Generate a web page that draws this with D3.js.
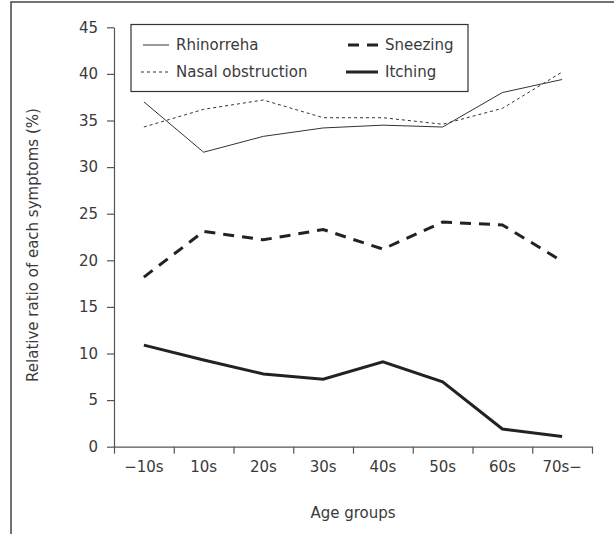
<!DOCTYPE html>
<html>
<head>
<meta charset="utf-8">
<script src="https://cdn.jsdelivr.net/npm/d3@7"></script>
<style>
  html, body { margin: 0; padding: 0; background: #fff; }
  svg { display: block; }
  text { font-family: "DejaVu Sans", sans-serif; fill: #3a3a3a; }
</style>
</head>
<body>
<div id="chart"></div>
<script>
// age groups on the x axis
const categories = ["\u221210s", "10s", "20s", "30s", "40s", "50s", "60s", "70s\u2212"];
const yTicks = [0, 5, 10, 15, 20, 25, 30, 35, 40, 45];

// relative ratio of each symptom (%)
const rhinorreha = [37.0, 31.6, 33.3, 34.2, 34.5, 34.3, 38.0, 39.4];
const nasalObstruction = [34.3, 36.2, 37.2, 35.3, 35.3, 34.6, 36.3, 40.2];
const sneezing = [18.2, 23.1, 22.2, 23.3, 21.2, 24.1, 23.8, 19.9];
const itching = [10.9, 9.3, 7.8, 7.25, 9.1, 6.95, 1.9, 1.1];

const width = 614, height = 534;
const plotLeft = 114, plotRight = 592, plotTop = 27.3, plotBottom = 446.7;
const fontSize = "15px";

const svg = d3.select("#chart").append("svg")
  .attr("width", width)
  .attr("height", height);

// outer frame (only left and top edges are visible)
svg.append("path")
  .attr("d", "M11," + height + "V2H" + width)
  .attr("fill", "none")
  .attr("stroke", "#444")
  .attr("stroke-width", 1.5);

const x = d3.scaleBand()
  .domain(categories)
  .range([plotLeft, plotRight])
  .padding(0);

const xEdges = d3.scaleLinear()
  .domain([0, categories.length])
  .range([plotLeft, plotRight]);

const y = d3.scaleLinear()
  .domain([0, 45])
  .range([plotBottom, plotTop]);

// y axis
const yAxis = svg.append("g")
  .attr("transform", "translate(" + plotLeft + ",0)")
  .call(d3.axisLeft(y).tickValues(yTicks).tickSize(7).tickSizeOuter(0).tickPadding(9));
yAxis.selectAll("text").style("font-size", fontSize);

// x axis: ticks at group boundaries, labels centred in each group
svg.append("g")
  .attr("transform", "translate(0," + plotBottom + ")")
  .call(d3.axisBottom(xEdges).ticks(categories.length).tickSize(7).tickSizeOuter(0).tickFormat(""));

const xLabelAxis = svg.append("g")
  .attr("transform", "translate(0," + plotBottom + ")")
  .call(d3.axisBottom(x).tickSize(0).tickPadding(15));
xLabelAxis.select(".domain").remove();
xLabelAxis.selectAll("text").style("font-size", fontSize);

svg.selectAll(".domain, .tick line")
  .attr("stroke", "#555")
  .attr("stroke-width", 1.2);

// axis titles
svg.append("text")
  .attr("x", (plotLeft + plotRight) / 2)
  .attr("y", 518)
  .attr("text-anchor", "middle")
  .style("font-size", fontSize)
  .text("Age groups");

svg.append("text")
  .attr("transform", "translate(38," + ((plotTop + plotBottom) / 2 + 8) + ") rotate(-90)")
  .attr("text-anchor", "middle")
  .style("font-size", fontSize)
  .text("Relative ratio of each symptoms (%)");

// series
const series = [
  {name: "Rhinorreha", values: rhinorreha, width: 1, dash: null, color: "#333"},
  {name: "Nasal obstruction", values: nasalObstruction, width: 1, dash: "3,3", color: "#333"},
  {name: "Sneezing", values: sneezing, width: 3, dash: "11,8", color: "#222"},
  {name: "Itching", values: itching, width: 3, dash: null, color: "#222"}
];

const line = d3.line()
  .x((d, i) => x(categories[i]) + x.bandwidth() / 2)
  .y(d => y(d));

svg.append("g")
  .selectAll("path")
  .data(series)
  .enter().append("path")
  .attr("d", d => line(d.values))
  .attr("fill", "none")
  .attr("stroke", d => d.color)
  .attr("stroke-width", d => d.width)
  .attr("stroke-dasharray", d => d.dash)
  .attr("stroke-linejoin", "miter");

// legend
const legend = svg.append("g");
legend.append("rect")
  .attr("x", 131)
  .attr("y", 24.5)
  .attr("width", 337)
  .attr("height", 67)
  .attr("fill", "#fff")
  .attr("stroke", "#333")
  .attr("stroke-width", 1.2);

const legendPos = [
  {x: 143, y: 45},
  {x: 141, y: 72},
  {x: 348, y: 45},
  {x: 346, y: 72}
];

series.forEach((s, i) => {
  const p = legendPos[i];
  const x1 = i < 2 ? 169 : 378;
  legend.append("line")
    .attr("x1", p.x).attr("x2", x1)
    .attr("y1", p.y).attr("y2", p.y)
    .attr("stroke", s.color)
    .attr("stroke-width", s.width)
    .attr("stroke-dasharray", s.dash);
  legend.append("text")
    .attr("x", x1 + 7)
    .attr("y", p.y + 5)
    .style("font-size", fontSize)
    .text(s.name);
});
</script>
</body>
</html>
